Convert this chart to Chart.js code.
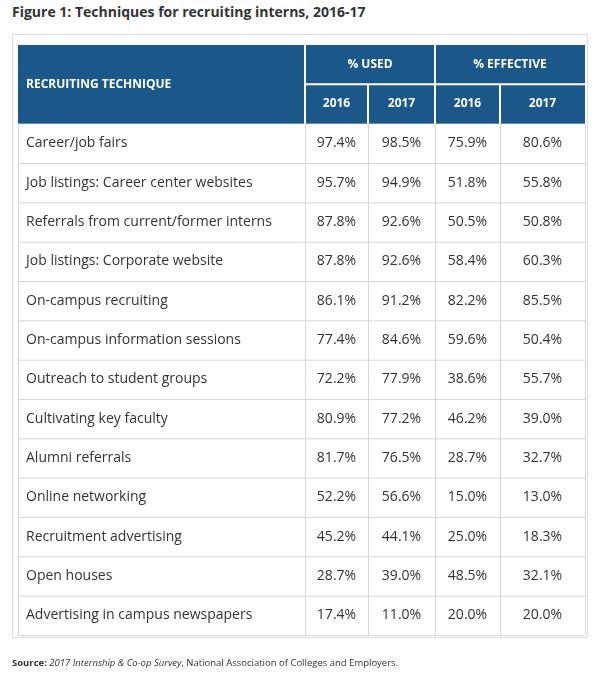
<!DOCTYPE html>
<html>
<head>
<meta charset="utf-8">
<script src="https://cdn.jsdelivr.net/npm/chart.js@4"></script>
<style>
  body { margin: 0; width: 600px; height: 680px; background: #fff; font-family: "Open Sans", sans-serif; position: relative; }
  #title { position: absolute; left: 12px; top: 2px; font-size: 14px; font-weight: bold; color: #333; }
  #box { position: absolute; left: 12px; top: 34px; width: 576px; height: 604px; border: 1px solid #ddd; box-sizing: border-box; }
  #wrap { position: absolute; left: 0; top: 0; width: 600px; height: 680px; }
  #source { position: absolute; left: 12px; top: 656px; font-size: 9.5px; color: #333; }
</style>
</head>
<body>
<div id="title">Figure 1: Techniques for recruiting interns, 2016-17</div>
<div id="box"></div>
<div id="wrap"><canvas id="table"></canvas></div>
<div id="source"><b>Source:</b> <i>2017 Internship &amp; Co-op Survey</i>, National Association of Colleges and Employers.</div>
<script>
// Table data
const techniques = [
    'Career/job fairs',
    'Job listings: Career center websites',
    'Referrals from current/former interns',
    'Job listings: Corporate website',
    'On-campus recruiting',
    'On-campus information sessions',
    'Outreach to student groups',
    'Cultivating key faculty',
    'Alumni referrals',
    'Online networking',
    'Recruitment advertising',
    'Open houses',
    'Advertising in campus newspapers'
];
const used2016 = [97.4, 95.7, 87.8, 87.8, 86.1, 77.4, 72.2, 80.9, 81.7, 52.2, 45.2, 28.7, 17.4];
const used2017 = [98.5, 94.9, 92.6, 92.6, 91.2, 84.6, 77.9, 77.2, 76.5, 56.6, 44.1, 39.0, 11.0];
const effective2016 = [75.9, 51.8, 50.5, 58.4, 82.2, 59.6, 38.6, 46.2, 28.7, 15.0, 25.0, 48.5, 20.0];
const effective2017 = [80.6, 55.8, 50.8, 60.3, 85.5, 50.4, 55.7, 39.0, 32.7, 13.0, 18.3, 32.1, 20.0];
const groupHeaders = ['% USED', '% EFFECTIVE'];
const years = ['2016', '2017'];

// Column edges in x-scale units, header takes 2 row units
const colEdges = [0, 287, 350, 417, 482, 567];
const headerRows = 2;
const headerColor = '#1b5788';
const lineColor = '#d6d6d6';

const tablePlugin = {
    id: 'tableCells',
    afterDraw(chart) {
        const ctx = chart.ctx;
        const x = chart.scales.x, y = chart.scales.y;
        const px = v => x.getPixelForValue(v);
        const py = v => y.getPixelForValue(v);
        ctx.save();

        // Header background
        ctx.fillStyle = headerColor;
        ctx.fillRect(px(0), py(0), px(567) - px(0), py(headerRows) - py(0));

        // Header separators
        ctx.strokeStyle = '#ffffff';
        ctx.lineWidth = 2;
        ctx.beginPath();
        [1, 3].forEach(c => { ctx.moveTo(px(colEdges[c]), py(0)); ctx.lineTo(px(colEdges[c]), py(headerRows)); });
        [2, 4].forEach(c => { ctx.moveTo(px(colEdges[c]), py(1)); ctx.lineTo(px(colEdges[c]), py(headerRows)); });
        ctx.moveTo(px(colEdges[1]), py(1)); ctx.lineTo(px(colEdges[5]), py(1));
        ctx.stroke();

        ctx.fillStyle = '#ffffff';
        ctx.font = 'bold 12px "Open Sans", sans-serif';
        ctx.textBaseline = 'middle';
        ctx.textAlign = 'left';
        ctx.fillText('RECRUITING TECHNIQUE', px(colEdges[0]) + 8, py(1));
        ctx.textAlign = 'center';
        groupHeaders.forEach((g, i) => {
            ctx.fillText(g, (px(colEdges[1 + i * 2]) + px(colEdges[3 + i * 2])) / 2, py(0.5));
            years.forEach((yr, j) => {
                const c = 1 + i * 2 + j;
                ctx.fillText(yr, (px(colEdges[c]) + px(colEdges[c + 1])) / 2, py(1.5));
            });
        });

        // Body grid
        const bottom = headerRows + techniques.length;
        ctx.strokeStyle = lineColor;
        ctx.lineWidth = 1;
        ctx.beginPath();
        for (let r = headerRows + 1; r <= bottom; r++) {
            ctx.moveTo(px(0), py(r) + 0.5); ctx.lineTo(px(567), py(r) + 0.5);
        }
        colEdges.forEach(c => { ctx.moveTo(px(c) + 0.5, py(headerRows)); ctx.lineTo(px(c) + 0.5, py(bottom)); });
        ctx.stroke();

        // Body text
        ctx.fillStyle = '#333333';
        ctx.font = '14px "Open Sans", sans-serif';
        const cols = [used2016, used2017, effective2016, effective2017];
        techniques.forEach((t, i) => {
            const cy = py(headerRows + i + 0.5);
            ctx.textAlign = 'left';
            ctx.fillText(t, px(colEdges[0]) + 8, cy);
            ctx.textAlign = 'center';
            cols.forEach((vals, c) => {
                ctx.fillText(vals[i].toFixed(1) + '%', (px(colEdges[c + 1]) + px(colEdges[c + 2])) / 2, cy);
            });
        });
        ctx.restore();
    }
};

new Chart(document.getElementById('table').getContext('2d'), {
    type: 'scatter',
    data: { datasets: [{ data: [] }] },
    options: {
        responsive: true,
        maintainAspectRatio: false,
        animation: false,
        layout: { padding: { left: 18, right: 15, top: 45, bottom: 45 } },
        plugins: { legend: { display: false }, tooltip: { enabled: false } },
        scales: {
            x: { type: 'linear', min: 0, max: 567, display: false },
            y: { type: 'linear', min: 0, max: headerRows + techniques.length, reverse: true, display: false }
        }
    },
    plugins: [tablePlugin]
});
</script>
</body>
</html>
